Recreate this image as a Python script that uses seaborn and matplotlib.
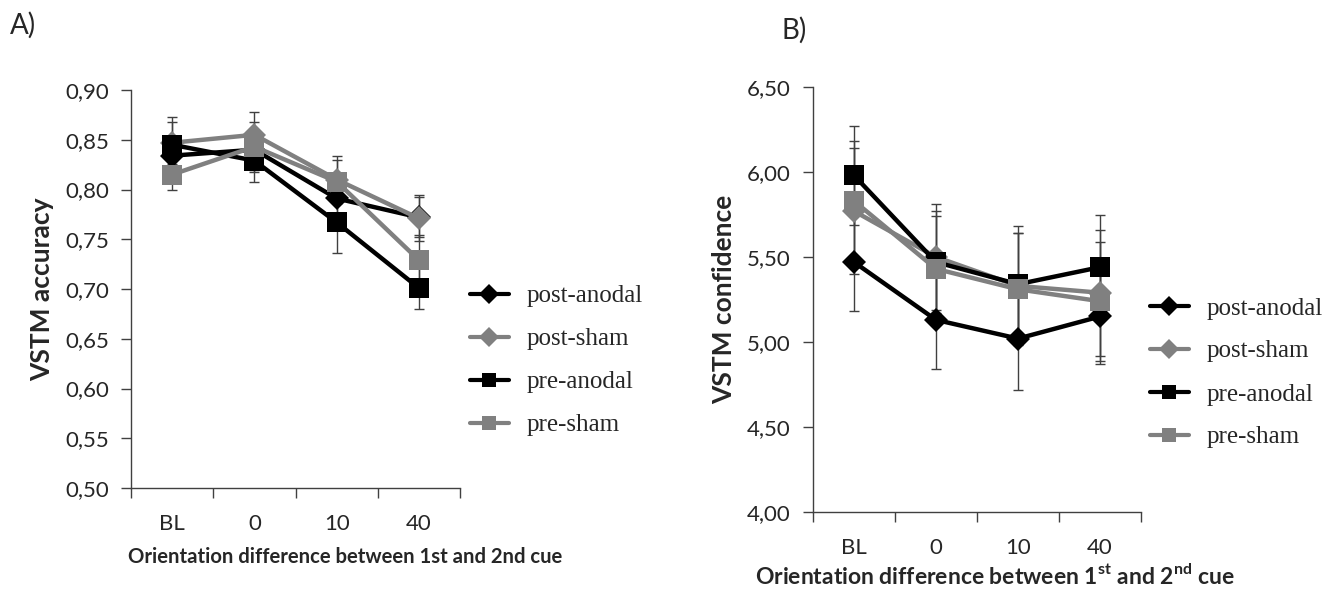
import numpy as np
import pandas as pd
import seaborn as sns
import matplotlib.pyplot as plt
from matplotlib.lines import Line2D
from matplotlib.ticker import FixedLocator, FuncFormatter

# datos
categorias = ['BL', '0', '10', '40']
series = ['post-anodal', 'post-sham', 'pre-anodal', 'pre-sham']

# A) precisión VSTM
acc_post_anodal = [0.834, 0.840, 0.791, 0.772]
acc_post_sham = [0.847, 0.855, 0.810, 0.771]
acc_pre_anodal = [0.845, 0.829, 0.767, 0.701]
acc_pre_sham = [0.815, 0.843, 0.808, 0.729]
acc_err_post_anodal = [0.020, 0.020, 0.020, 0.020]
acc_err_post_sham = [0.021, 0.023, 0.024, 0.023]
acc_err_pre_anodal = [0.028, 0.021, 0.031, 0.021]
acc_err_pre_sham = [0.015, 0.025, 0.022, 0.025]

# B) confianza VSTM
conf_post_anodal = [5.47, 5.13, 5.02, 5.15]
conf_post_sham = [5.77, 5.50, 5.33, 5.29]
conf_pre_anodal = [5.98, 5.47, 5.34, 5.44]
conf_pre_sham = [5.83, 5.43, 5.31, 5.24]
conf_err_post_anodal = [0.29, 0.29, 0.30, 0.28]
conf_err_post_sham = [0.37, 0.31, 0.31, 0.37]
conf_err_pre_anodal = [0.29, 0.30, 0.34, 0.31]
conf_err_pre_sham = [0.35, 0.31, 0.33, 0.35]

colores = {'post-anodal': 'black', 'post-sham': '#808080',
           'pre-anodal': 'black', 'pre-sham': '#808080'}
marcadores = {'post-anodal': 'D', 'post-sham': 'D', 'pre-anodal': 's', 'pre-sham': 's'}
tam_marcador = {'D': 12, 's': 14}

sns.set_style("ticks")
plt.rcParams['font.family'] = ['Lato', 'DejaVu Sans']
plt.rcParams['mathtext.fontset'] = 'custom'
plt.rcParams['mathtext.rm'] = 'Lato'
plt.rcParams['mathtext.bf'] = 'Lato:bold'

fig = plt.figure(figsize=(13.31, 5.92), dpi=100)
ax_a = fig.add_axes([131 / 1331, 1 - 488 / 592, 329 / 1331, 398 / 592])
ax_b = fig.add_axes([813 / 1331, 1 - 512 / 592, 328 / 1331, 425 / 592])

pos = np.arange(len(categorias))


def dibujar(ax, valores, errores, ylim, yticks, ylabel, xlabel, xlabel_size,
            xlabel_pos, leg_anchor):
    for s in series:
        ax.errorbar(pos, valores[s], yerr=errores[s], fmt='none', ecolor='#404040',
                    elinewidth=1, capsize=3.5, capthick=1, zorder=1)
    for s in series:
        m = marcadores[s]
        df = pd.DataFrame({'x': pos, 'y': valores[s]})
        sns.lineplot(data=df, x='x', y='y', ax=ax, color=colores[s], linewidth=3.2,
                     marker=m, markersize=tam_marcador[m], markeredgewidth=0,
                     legend=False, zorder=3)
    ax.set_xlim(-0.5, 3.5)
    ax.set_ylim(*ylim)
    ax.set_yticks(yticks)
    ax.yaxis.set_major_formatter(FuncFormatter(lambda v, p: f"{v:.2f}".replace('.', ',')))
    ax.set_xticks(pos)
    ax.set_xticklabels(categorias)
    ax.xaxis.set_minor_locator(FixedLocator([-0.5, 0.5, 1.5, 2.5, 3.5]))
    ax.tick_params(axis='x', which='major', length=0, pad=19, labelsize=16)
    ax.tick_params(axis='x', which='minor', length=7, width=1, color='#404040')
    ax.tick_params(axis='y', length=7, width=1, color='#404040', pad=9, labelsize=16)
    for lado in ['top', 'right']:
        ax.spines[lado].set_visible(False)
    for lado in ['left', 'bottom']:
        ax.spines[lado].set_color('#404040')
        ax.spines[lado].set_linewidth(1)
    ax.set_ylabel(ylabel, fontsize=19, fontweight='bold', labelpad=8)
    ax.set_xlabel(xlabel, fontsize=xlabel_size, fontweight='bold', va='center')
    ax.xaxis.set_label_coords(*xlabel_pos)

    handles = [Line2D([0], [0], color=colores[s], marker=marcadores[s], linewidth=3,
                      markersize=10, markeredgewidth=0)
               for s in series]
    fig.legend(handles, series, loc='upper left', bbox_to_anchor=leg_anchor,
               frameon=False, prop={'family': 'Liberation Serif', 'size': 18},
               handlelength=1.55, handletextpad=0.7, labelspacing=0.82,
               borderpad=0, borderaxespad=0)


dibujar(ax_a,
        {'post-anodal': acc_post_anodal, 'post-sham': acc_post_sham,
         'pre-anodal': acc_pre_anodal, 'pre-sham': acc_pre_sham},
        {'post-anodal': acc_err_post_anodal, 'post-sham': acc_err_post_sham,
         'pre-anodal': acc_err_pre_anodal, 'pre-sham': acc_err_pre_sham},
        (0.50, 0.90), np.arange(0.50, 0.901, 0.05), 'VSTM accuracy',
        'Orientation difference between 1st and 2nd cue', 14.6,
        ((345 - 131) / 329, (488 - 557) / 398),
        (470 / 1331, 1 - 285 / 592))

dibujar(ax_b,
        {'post-anodal': conf_post_anodal, 'post-sham': conf_post_sham,
         'pre-anodal': conf_pre_anodal, 'pre-sham': conf_pre_sham},
        {'post-anodal': conf_err_post_anodal, 'post-sham': conf_err_post_sham,
         'pre-anodal': conf_err_pre_anodal, 'pre-sham': conf_err_pre_sham},
        (4.00, 6.50), np.arange(4.00, 6.501, 0.50), 'VSTM confidence',
        r'Orientation difference between 1$^{\mathbf{st}}$ and 2$^{\mathbf{nd}}$ cue', 16.5,
        ((995 - 813) / 328, (512 - 576) / 425),
        (1150 / 1331, 1 - 297 / 592))

fig.text(10 / 1331, 1 - 25 / 592, 'A)', fontsize=20, va='center', ha='left')
fig.text(782 / 1331, 1 - 30 / 592, 'B)', fontsize=20, va='center', ha='left')

fig.savefig('out.png', dpi=100)
